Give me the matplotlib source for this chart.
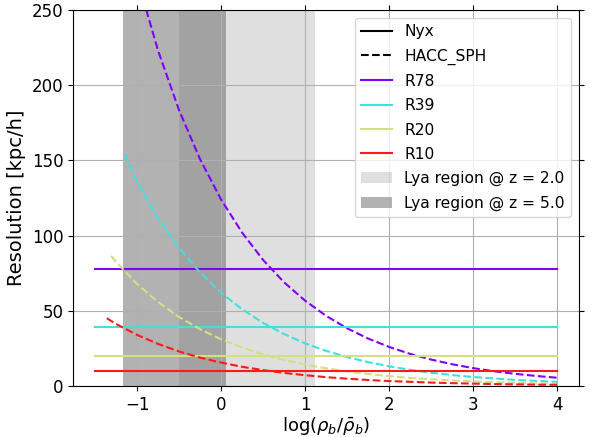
import matplotlib
matplotlib.use('Agg')
import matplotlib.pyplot as plt

# Nyx网格分辨率 (水平线)
nyx_names = ['R78', 'R39', 'R20', 'R10']
nyx_res = [78, 39, 20, 10]
nyx_x = [-1.5, 4.0]
colors = ['#8000ff', '#40e0e0', '#d4e080', '#ff1a1a']

# HACC_SPH 分辨率 (虚线)
r78_x = [-1.0, -0.75, -0.5, -0.25, 0.0, 0.25, 0.5, 0.75, 1.0, 1.25, 1.5, 1.75, 2.0, 2.25, 2.5, 2.75, 3.0, 3.25, 3.5, 3.75, 4.0]
r78_y = [271.3, 223.1, 183.4, 150.8, 124.0, 102.0, 83.8, 68.9, 56.7, 46.6, 38.3, 31.5, 25.9, 21.3, 17.5, 14.4, 11.8, 9.7, 8.0, 6.6, 5.4]

r39_x = [-1.146, -1.0, -0.75, -0.5, -0.25, 0.0, 0.25, 0.5, 0.75, 1.0, 1.25, 1.5, 1.75, 2.0, 2.25, 2.5, 2.75, 3.0, 3.25, 3.5, 3.75, 4.0]
r39_y = [154.0, 135.7, 111.5, 91.7, 75.4, 62.0, 51.0, 41.9, 34.5, 28.3, 23.3, 19.2, 15.8, 13.0, 10.7, 8.8, 7.2, 5.9, 4.9, 4.0, 3.3, 2.7]

r20_x = [-1.31, -1.25, -1.0, -0.75, -0.5, -0.25, 0.0, 0.25, 0.5, 0.75, 1.0, 1.25, 1.5, 1.75, 2.0, 2.25, 2.5, 2.75, 3.0, 3.25, 3.5, 3.75, 4.0]
r20_y = [86.5, 82.5, 67.8, 55.8, 45.8, 37.7, 31.0, 25.5, 21.0, 17.2, 14.2, 11.7, 9.6, 7.9, 6.5, 5.3, 4.4, 3.6, 3.0, 2.4, 2.0, 1.6, 1.4]

r10_x = [-1.36, -1.25, -1.0, -0.75, -0.5, -0.25, 0.0, 0.25, 0.5, 0.75, 1.0, 1.25, 1.5, 1.75, 2.0, 2.25, 2.5, 2.75, 3.0, 3.25, 3.5, 3.75, 4.0]
r10_y = [45.0, 41.2, 33.9, 27.9, 22.9, 18.8, 15.5, 12.7, 10.5, 8.6, 7.1, 5.8, 4.8, 3.9, 3.2, 2.7, 2.2, 1.8, 1.5, 1.2, 1.0, 0.8, 0.7]

sph_x = [r78_x, r39_x, r20_x, r10_x]
sph_y = [r78_y, r39_y, r20_y, r10_y]

# Lya 区域
lya_z2 = [-0.5, 1.12]
lya_z5 = [-1.17, 0.06]

fig, ax = plt.subplots(figsize=(5.95, 4.37), dpi=100)
fig.subplots_adjust(left=0.123, right=0.973, bottom=0.117, top=0.977)

# 图例用的黑色线
ax.plot([], [], color='k', label='Nyx')
ax.plot([], [], color='k', ls='--', label='HACC_SPH')

for name, res, c, xs, ys in zip(nyx_names, nyx_res, colors, sph_x, sph_y):
    ax.plot(nyx_x, [res, res], color=c, lw=1.5, label=name)
    ax.plot(xs, ys, color=c, lw=1.5, ls='--')

ax.axvspan(lya_z2[0], lya_z2[1], color='grey', alpha=0.25, lw=0, label='Lya region @ z = 2.0')
ax.axvspan(lya_z5[0], lya_z5[1], color='#666666', alpha=0.5, lw=0, label='Lya region @ z = 5.0')

ax.set_xlim(-1.76, 4.26)
ax.set_ylim(0, 250)
ax.set_xticks([-1, 0, 1, 2, 3, 4])
ax.set_yticks([0, 50, 100, 150, 200, 250])
ax.tick_params(top=True, right=True, labelsize=12)
ax.grid(True)
ax.set_xlabel(r'$\log(\rho_b/\bar{\rho}_b)$', fontsize=13, labelpad=1)
ax.set_ylabel('Resolution [kpc/h]', fontsize=14)
ax.legend(loc='upper right', fontsize=11.2, labelspacing=0.6)

plt.savefig('out.png', dpi=100)
